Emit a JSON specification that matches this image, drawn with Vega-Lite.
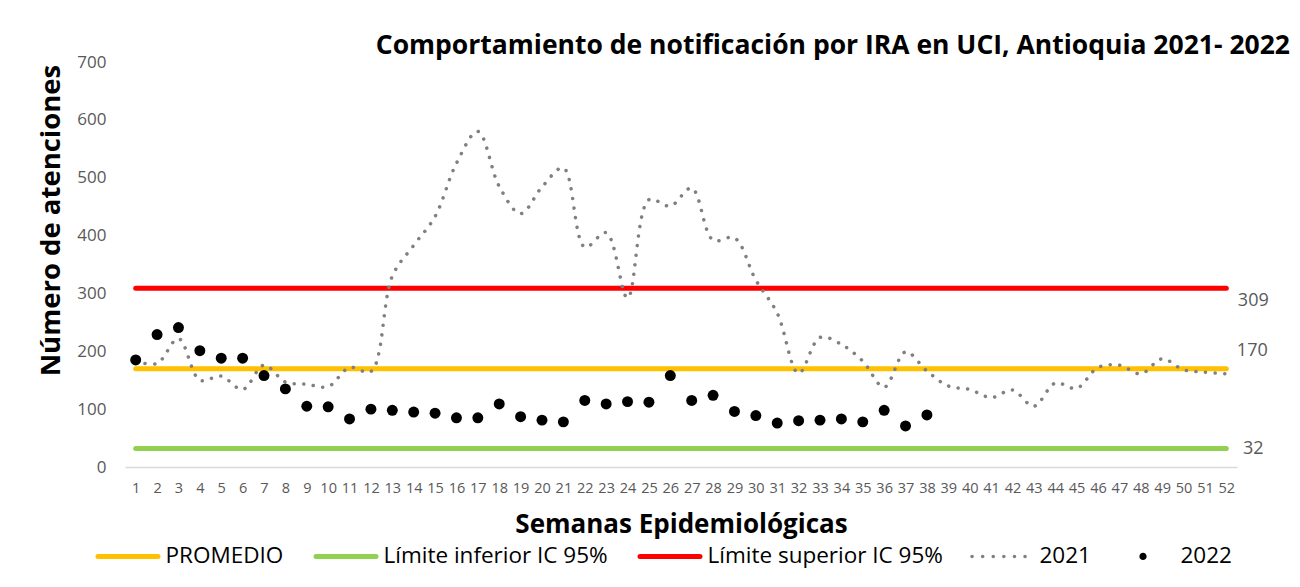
{
  "$schema": "https://vega.github.io/schema/vega-lite/v6.json",
  "autosize": {"type": "none"},
  "width": 1112,
  "height": 405,
  "padding": {"left": 125, "top": 62, "right": 63, "bottom": 120},
  "background": "white",
  "config": {
    "view": {"stroke": null},
    "font": "Open Sans",
    "axis": {"grid": false, "ticks": false, "tickSize": 0}
  },
  "title": {
    "text": "Comportamiento de notificación por IRA en UCI, Antioquia 2021- 2022",
    "anchor": "end",
    "frame": "group",
    "font": "Open Sans",
    "fontSize": 26.5,
    "fontWeight": "bold",
    "color": "#000000",
    "dx": 53,
    "offset": -6
  },
  "data": {
    "values": [
      {"s": 1, "prom": 170, "inf": 32, "sup": 309, "y2021": 183, "y2022": 185},
      {"s": 2, "prom": 170, "inf": 32, "sup": 309, "y2021": 179, "y2022": 229},
      {"s": 3, "prom": 170, "inf": 32, "sup": 309, "y2021": 222, "y2022": 241},
      {"s": 4, "prom": 170, "inf": 32, "sup": 309, "y2021": 150, "y2022": 201},
      {"s": 5, "prom": 170, "inf": 32, "sup": 309, "y2021": 157, "y2022": 188},
      {"s": 6, "prom": 170, "inf": 32, "sup": 309, "y2021": 134, "y2022": 188},
      {"s": 7, "prom": 170, "inf": 32, "sup": 309, "y2021": 176, "y2022": 158},
      {"s": 8, "prom": 170, "inf": 32, "sup": 309, "y2021": 147, "y2022": 135},
      {"s": 9, "prom": 170, "inf": 32, "sup": 309, "y2021": 143, "y2022": 105},
      {"s": 10, "prom": 170, "inf": 32, "sup": 309, "y2021": 139, "y2022": 104},
      {"s": 11, "prom": 170, "inf": 32, "sup": 309, "y2021": 172, "y2022": 83},
      {"s": 12, "prom": 170, "inf": 32, "sup": 309, "y2021": 165, "y2022": 100},
      {"s": 13, "prom": 170, "inf": 32, "sup": 309, "y2021": 330, "y2022": 98},
      {"s": 14, "prom": 170, "inf": 32, "sup": 309, "y2021": 383, "y2022": 95},
      {"s": 15, "prom": 170, "inf": 32, "sup": 309, "y2021": 433, "y2022": 93},
      {"s": 16, "prom": 170, "inf": 32, "sup": 309, "y2021": 525, "y2022": 85},
      {"s": 17, "prom": 170, "inf": 32, "sup": 309, "y2021": 580, "y2022": 85},
      {"s": 18, "prom": 170, "inf": 32, "sup": 309, "y2021": 485, "y2022": 109},
      {"s": 19, "prom": 170, "inf": 32, "sup": 309, "y2021": 438, "y2022": 87},
      {"s": 20, "prom": 170, "inf": 32, "sup": 309, "y2021": 484, "y2022": 81},
      {"s": 21, "prom": 170, "inf": 32, "sup": 309, "y2021": 517, "y2022": 78},
      {"s": 22, "prom": 170, "inf": 32, "sup": 309, "y2021": 380, "y2022": 115},
      {"s": 23, "prom": 170, "inf": 32, "sup": 309, "y2021": 405, "y2022": 109},
      {"s": 24, "prom": 170, "inf": 32, "sup": 309, "y2021": 292, "y2022": 113},
      {"s": 25, "prom": 170, "inf": 32, "sup": 309, "y2021": 462, "y2022": 112},
      {"s": 26, "prom": 170, "inf": 32, "sup": 309, "y2021": 451, "y2022": 158},
      {"s": 27, "prom": 170, "inf": 32, "sup": 309, "y2021": 482, "y2022": 115},
      {"s": 28, "prom": 170, "inf": 32, "sup": 309, "y2021": 392, "y2022": 124},
      {"s": 29, "prom": 170, "inf": 32, "sup": 309, "y2021": 396, "y2022": 96},
      {"s": 30, "prom": 170, "inf": 32, "sup": 309, "y2021": 323, "y2022": 89},
      {"s": 31, "prom": 170, "inf": 32, "sup": 309, "y2021": 266, "y2022": 76},
      {"s": 32, "prom": 170, "inf": 32, "sup": 309, "y2021": 162, "y2022": 80},
      {"s": 33, "prom": 170, "inf": 32, "sup": 309, "y2021": 224, "y2022": 81},
      {"s": 34, "prom": 170, "inf": 32, "sup": 309, "y2021": 212, "y2022": 83},
      {"s": 35, "prom": 170, "inf": 32, "sup": 309, "y2021": 183, "y2022": 78},
      {"s": 36, "prom": 170, "inf": 32, "sup": 309, "y2021": 138, "y2022": 98},
      {"s": 37, "prom": 170, "inf": 32, "sup": 309, "y2021": 199, "y2022": 71},
      {"s": 38, "prom": 170, "inf": 32, "sup": 309, "y2021": 166, "y2022": 90},
      {"s": 39, "prom": 170, "inf": 32, "sup": 309, "y2021": 140},
      {"s": 40, "prom": 170, "inf": 32, "sup": 309, "y2021": 134},
      {"s": 41, "prom": 170, "inf": 32, "sup": 309, "y2021": 120},
      {"s": 42, "prom": 170, "inf": 32, "sup": 309, "y2021": 133},
      {"s": 43, "prom": 170, "inf": 32, "sup": 309, "y2021": 105},
      {"s": 44, "prom": 170, "inf": 32, "sup": 309, "y2021": 145},
      {"s": 45, "prom": 170, "inf": 32, "sup": 309, "y2021": 136},
      {"s": 46, "prom": 170, "inf": 32, "sup": 309, "y2021": 172},
      {"s": 47, "prom": 170, "inf": 32, "sup": 309, "y2021": 176},
      {"s": 48, "prom": 170, "inf": 32, "sup": 309, "y2021": 161},
      {"s": 49, "prom": 170, "inf": 32, "sup": 309, "y2021": 187},
      {"s": 50, "prom": 170, "inf": 32, "sup": 309, "y2021": 168},
      {"s": 51, "prom": 170, "inf": 32, "sup": 309, "y2021": 164},
      {"s": 52, "prom": 170, "inf": 32, "sup": 309, "y2021": 161}
    ]
  },
  "encoding": {
    "x": {
      "field": "s",
      "type": "ordinal",
      "scale": {"type": "point", "padding": 0.5},
      "axis": {
        "title": "Semanas Epidemiológicas",
        "titleFont": "Open Sans",
        "titleFontSize": 26,
        "titleFontWeight": "bold",
        "titleColor": "#000000",
        "titlePadding": 17,
        "labelAngle": 0,
        "labelFontSize": 14.5,
        "labelColor": "#595959",
        "labelPadding": 14,
        "domainColor": "#d9d9d9",
        "domainWidth": 1.5
      }
    }
  },
  "layer": [
    {
      "transform": [{"fold": ["prom", "inf", "sup"], "as": ["serie", "valor"]}],
      "mark": {"type": "line", "strokeWidth": 5, "strokeCap": "round"},
      "encoding": {
        "y": {
          "field": "valor",
          "type": "quantitative",
          "scale": {"domain": [0, 700]},
          "axis": {
            "values": [0, 100, 200, 300, 400, 500, 600, 700],
            "title": "Número de atenciones",
            "titleFont": "Open Sans",
            "titleFontSize": 27.5,
            "titleFontWeight": "bold",
            "titleColor": "#000000",
            "titleX": -74,
            "titleY": 158,
            "titleAngle": 270,
            "titleAlign": "center",
            "titleBaseline": "middle",
            "labelFontSize": 17,
            "labelColor": "#595959",
            "labelPadding": 19,
            "domain": false
          }
        },
        "color": {
          "field": "serie",
          "type": "nominal",
          "scale": {
            "domain": ["prom", "inf", "sup", "y2021", "y2022"],
            "range": ["#FFC000", "#92D050", "#FF0000", "#808080", "#000000"]
          },
          "legend": {
            "title": null,
            "orient": "none",
            "direction": "horizontal",
            "legendX": -27,
            "legendY": 483,
            "symbolType": "stroke",
            "symbolSize": 3600,
            "symbolStrokeWidth": 5,
            "labelFont": "Open Sans",
            "labelFontSize": 22.5,
            "labelColor": "#000000",
            "labelOffset": 45,
            "labelLimit": 0,
            "columnPadding": 22,
            "labelExpr": "datum.value == 'prom' ? 'PROMEDIO' : datum.value == 'inf' ? 'Límite inferior IC 95%' : datum.value == 'sup' ? 'Límite superior IC 95%' : datum.value == 'y2021' ? '2021' : '2022'",
            "encode": {
              "symbols": {
                "update": {
                  "x": {"value": 30},
                  "shape": {"signal": "datum.value == 'y2022' ? 'M -0.12 0 A 0.12 0.12 0 1 1 0.12 0 A 0.12 0.12 0 1 1 -0.12 0 Z' : 'stroke'"},
                  "fill": {"signal": "datum.value == 'y2022' ? '#000000' : 'transparent'"},
                  "strokeWidth": {"signal": "datum.value == 'y2021' ? 3.5 : datum.value == 'y2022' ? 0 : 5"},
                  "strokeDash": {"signal": "datum.value == 'y2021' ? [0.1, 10.5] : [1, 0]"},
                  "strokeCap": {"value": "round"},
                  "opacity": {"value": 1}
                }
              }
            }
          }
        }
      }
    },
    {
      "transform": [{"fold": ["y2021"], "as": ["serie", "valor"]}],
      "mark": {"type": "line", "strokeWidth": 3.5, "strokeCap": "round", "strokeDash": [0.1, 9.5], "interpolate": "catmull-rom"},
      "encoding": {
        "y": {"field": "valor", "type": "quantitative"},
        "color": {"field": "serie", "type": "nominal"}
      }
    },
    {
      "transform": [{"fold": ["y2022"], "as": ["serie", "valor"]}, {"filter": "isValid(datum.valor)"}],
      "mark": {"type": "point", "filled": true, "size": 120, "opacity": 1},
      "encoding": {
        "y": {"field": "valor", "type": "quantitative"},
        "color": {"field": "serie", "type": "nominal"}
      }
    },
    {
      "transform": [{"filter": "datum.s == 52"}],
      "mark": {"type": "text", "dx": 27, "dy": 13, "fontSize": 18, "color": "#595959", "font": "Open Sans"},
      "encoding": {
        "y": {"field": "sup", "type": "quantitative"},
        "text": {"field": "sup", "type": "quantitative"}
      }
    },
    {
      "transform": [{"filter": "datum.s == 52"}],
      "mark": {"type": "text", "dx": 26, "dy": -18, "fontSize": 18, "color": "#595959", "font": "Open Sans"},
      "encoding": {
        "y": {"field": "prom", "type": "quantitative"},
        "text": {"field": "prom", "type": "quantitative"}
      }
    },
    {
      "transform": [{"filter": "datum.s == 52"}],
      "mark": {"type": "text", "dx": 27, "dy": 1, "fontSize": 18, "color": "#595959", "font": "Open Sans"},
      "encoding": {
        "y": {"field": "inf", "type": "quantitative"},
        "text": {"field": "inf", "type": "quantitative"}
      }
    }
  ]
}
